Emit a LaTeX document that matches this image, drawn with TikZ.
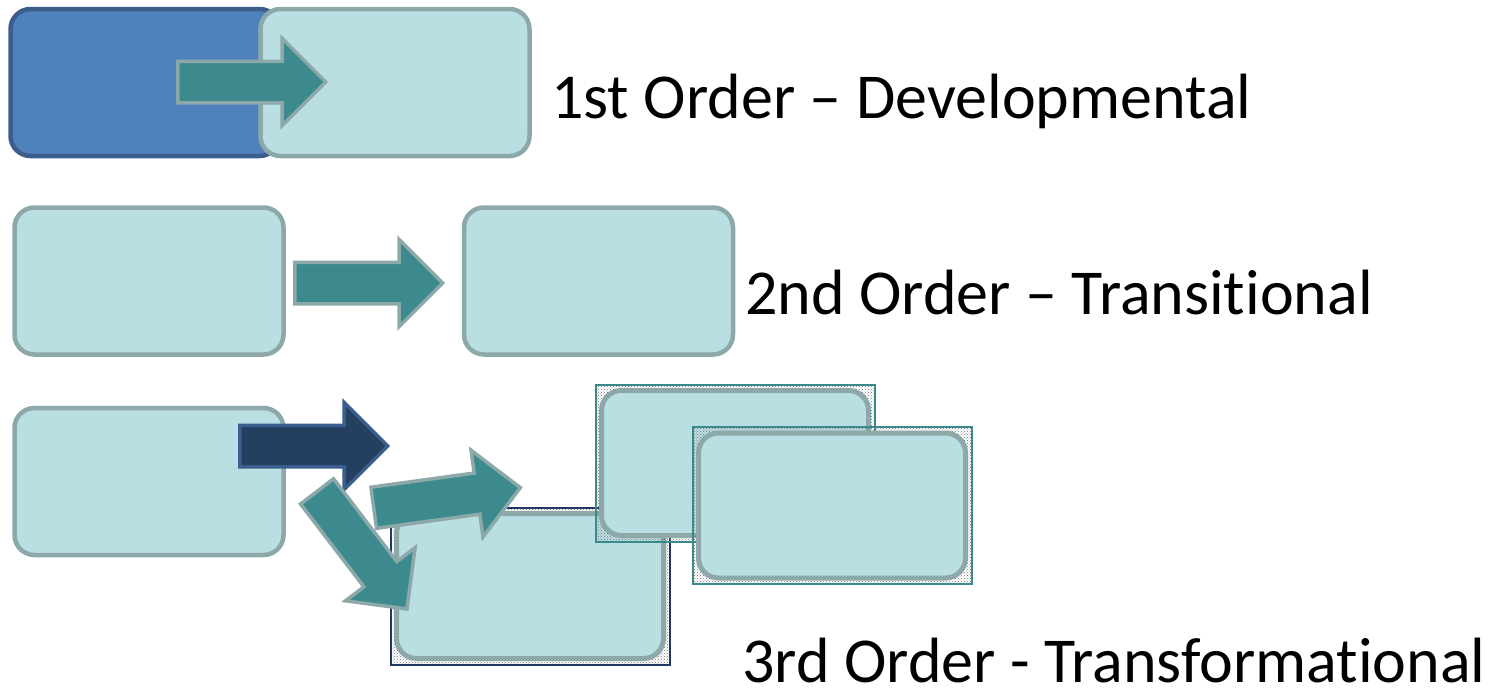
\documentclass[tikz,border=0pt]{standalone}
\usepackage{fontspec}
\setmainfont{Carlito}[Ligatures=NoCommon]
\usetikzlibrary{positioning, shapes.arrows, patterns}
\definecolor{boxfill}{HTML}{BADFE2}
\definecolor{boxline}{HTML}{8CA8A8}
\definecolor{oldfill}{HTML}{4F81BD}
\definecolor{oldline}{HTML}{3B5E8C}
\definecolor{arrowfill}{HTML}{3C8A8E}
\definecolor{darkfill}{HTML}{243F60}
\definecolor{darkline}{HTML}{3A5F8E}
\definecolor{frameteal}{HTML}{3A8A8C}
\definecolor{framenavy}{HTML}{1F3864}
\tikzset{
    box/.style={rectangle, rounded corners=20pt, draw=boxline, fill=boxfill,
      line width=4.5pt, minimum width=269pt, minimum height=147pt},
    oldbox/.style={box, draw=oldline, fill=oldfill},
    blockarrow/.style={single arrow, draw=boxline, fill=arrowfill, line width=3.5pt,
      inner sep=0pt, inner ysep=19pt, single arrow head extend=23pt,
      minimum height=148pt, anchor=tail},
    darkarrow/.style={blockarrow, draw=darkline, fill=darkfill},
    framedbox/.style={rectangle, draw=#1, line width=2pt, pattern=crosshatch dots,
      pattern color=black!55, minimum width=279pt, minimum height=157pt,
      path picture={
        \draw[rounded corners=20pt, draw=boxline, fill=boxfill, line width=5pt]
          ([shift={(6pt,-6pt)}]path picture bounding box.north west) rectangle
          ([shift={(-6pt,6pt)}]path picture bounding box.south east);
      }},
    order/.style={anchor=base west, inner sep=0pt, font=\fontsize{64}{70}\selectfont},
}

\begin{document}
\begin{tikzpicture}[x=1pt, y=-1pt]
    \tikzset{node distance=47pt}
    \useasboundingbox (0,0) rectangle (1497,691);

    % first order
    \node[oldbox] (a0) at (145,82.5) {};
    \node[box] (a1) at (395,82.5) {};
    \node[blockarrow] (a01) at (176,82) {};
    \node[order] (t1) at (551,118) {1st Order – Developmental};

    % second order
    \node[box, below=of a0, xshift=4pt] (b0) {};
    \node[box, right=176pt of b0] (b1) {};
    \node[blockarrow] (b01) at (293,283) {};
    \node[order] (t2) at (745,314) {2nd Order – Transitional};

    % third order
    \node[box, below=49pt of b0] (c0) {};
    \node[darkarrow] (c01) at (238,446) {};
    \node[framedbox=framenavy] (c1) at (530,586) {};
    \node[blockarrow, rotate=-52.6] (c02) at (316,490) {};
    \node[blockarrow, rotate=7.8] (c03) at (372,508) {};
    \node[framedbox=frameteal] (c2) at (735,463) {};
    \node[framedbox=frameteal] (c3) at (832,505.5) {};
    \node[order] (t3) at (742,682) {3rd Order - Transformational};
\end{tikzpicture}
\end{document}
